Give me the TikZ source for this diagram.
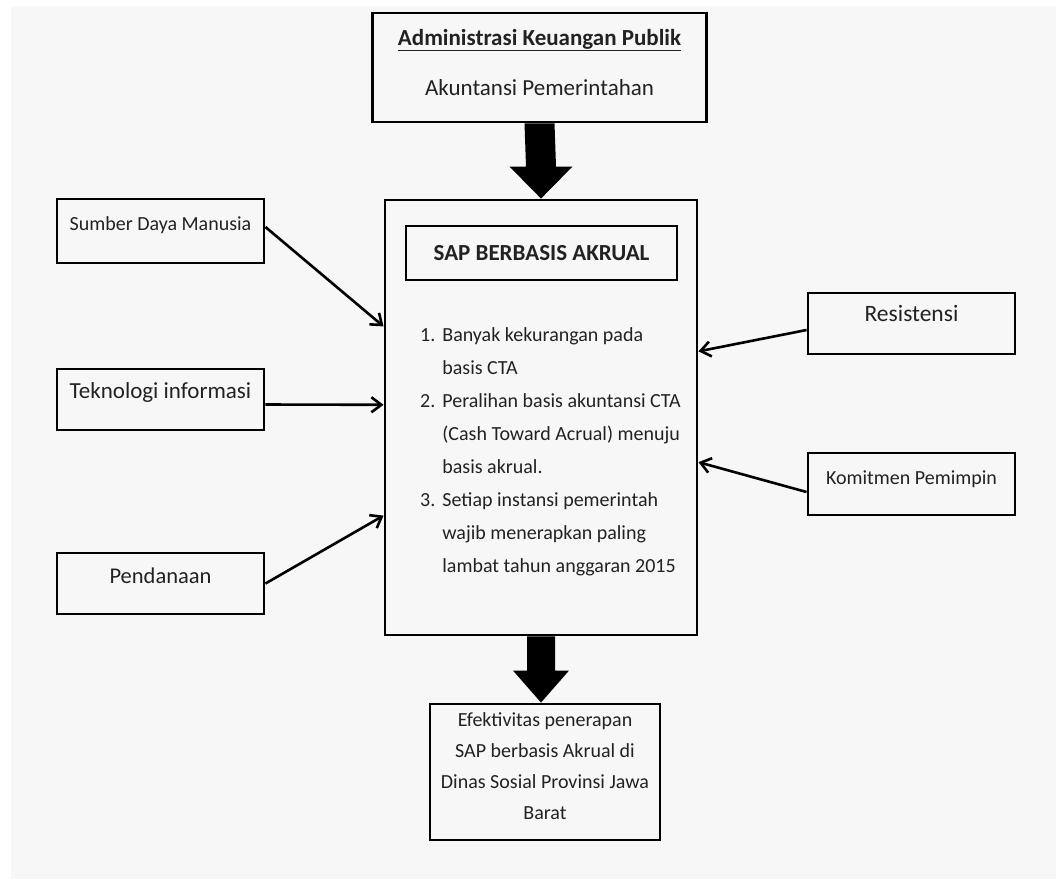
\documentclass[tikz,border=0pt]{standalone}
\usepackage{fontspec}
\setmainfont{Carlito}
\usetikzlibrary{arrows.meta,calc}
\definecolor{bggray}{HTML}{F7F7F7}
\definecolor{txt}{HTML}{222222}
\begin{document}
\begin{tikzpicture}[x=1pt,y=-1pt,
  box/.style={draw=black, line width=2.9pt, fill=bggray, text=txt, inner sep=0pt, align=center},
  link/.style={line width=2.6pt, -{Straight Barb[length=10pt,width=15pt]}},
  bigarrow/.style={fill=black}]
\fill[white] (0,0) rectangle (1056,879);
\fill[bggray] (11,6) rectangle (1056,879);
\useasboundingbox (0,0) rectangle (1056,879);

% top box
\node[box, minimum width=334pt, minimum height=109pt, text depth=11pt,
      font=\fontsize{23}{50}\selectfont] (top) at (539.5,67.5)
  {{\bfseries\underline{Administrasi Keuangan Publik}}\\{\fontsize{23}{50}\selectfont Akuntansi Pemerintahan}};

% central box
\node[box, minimum width=312pt, minimum height=435pt] (sap) at (541,417.5) {};
\node[box, minimum width=271pt, minimum height=54pt, font=\fontsize{23}{26}\selectfont\bfseries] (title) at (541.5,253) {SAP BERBASIS AKRUAL};
\node[anchor=north west, inner sep=0pt, text=txt, font=\fontsize{20}{33}\selectfont] (list) at (420,318)
  {\begin{tabular}{@{}l@{\hspace{7pt}}l@{}}
   1. & Banyak kekurangan pada\\
      & basis CTA\\
   2. & Peralihan basis akuntansi CTA\\
      & (Cash Toward Acrual) menuju\\
      & basis akrual.\\
   3. & Setiap instansi pemerintah\\
      & wajib menerapkan paling\\
      & lambat tahun anggaran 2015
   \end{tabular}};

% left boxes
\node[box, minimum width=207pt, minimum height=64pt, font=\fontsize{20}{24}\selectfont, text height=14pt, text depth=16pt] (sdm) at (160.5,231) {Sumber Daya Manusia};
\node[box, minimum width=207pt, minimum height=61pt, font=\fontsize{23}{26}\selectfont, text height=15pt, text depth=18pt] (ti) at (160.5,399.5) {Teknologi informasi};
\node[box, minimum width=207pt, minimum height=61pt, font=\fontsize{22.5}{26}\selectfont, text height=15pt, text depth=16pt] (dana) at (160.5,583.5) {Pendanaan};

% right boxes
\node[box, minimum width=207pt, minimum height=61pt, font=\fontsize{23.5}{26}\selectfont, text height=15pt, text depth=20pt] (res) at (911.5,323.5) {Resistensi};
\node[box, minimum width=207pt, minimum height=62pt, font=\fontsize{20}{24}\selectfont, text height=14pt, text depth=14pt] (kom) at (911.5,484) {Komitmen Pemimpin};

% bottom box
\node[box, minimum width=230pt, minimum height=136pt, font=\fontsize{20}{31}\selectfont, text depth=12pt] (efek) at (545,772)
  {Efektivitas penerapan\\SAP berbasis Akrual di\\Dinas Sosial Provinsi Jawa\\Barat};

% thin arrows
\draw[link] ([yshift=4pt]sdm.east) -- ($(sap.north west)!0.292!(sap.south west)$);
\draw[link] ([yshift=-5pt]ti.east) -- ($(sap.north west)!0.471!(sap.south west)$);
\draw[link] (dana.east) -- ($(sap.north west)!0.724!(sap.south west)$);
\draw[link] ([yshift=-6.5pt]res.west) -- ($(sap.north east)!0.349!(sap.south east)$);
\draw[link] ([yshift=-8pt]kom.west) -- ($(sap.north east)!0.602!(sap.south east)$);

% big arrows
\fill[bigarrow] ([xshift=-15pt]top.south) -- ([xshift=-15pt,yshift=32pt]sap.north) -- ([xshift=-31.5pt,yshift=32pt]sap.north)
  -- (sap.north) -- ([xshift=31.5pt,yshift=32pt]sap.north) -- ([xshift=15pt,yshift=32pt]sap.north) -- ([xshift=15pt]top.south) -- cycle;
\coordinate (btip) at (sap.south |- efek.north);
\fill[bigarrow] ([xshift=-14pt]sap.south) -- ([xshift=-14pt,yshift=32pt]btip) -- ([xshift=-28pt,yshift=32pt]btip)
  -- (btip) -- ([xshift=28pt,yshift=32pt]btip) -- ([xshift=14pt,yshift=32pt]btip) -- ([xshift=14pt]sap.south) -- cycle;
\end{tikzpicture}
\end{document}
